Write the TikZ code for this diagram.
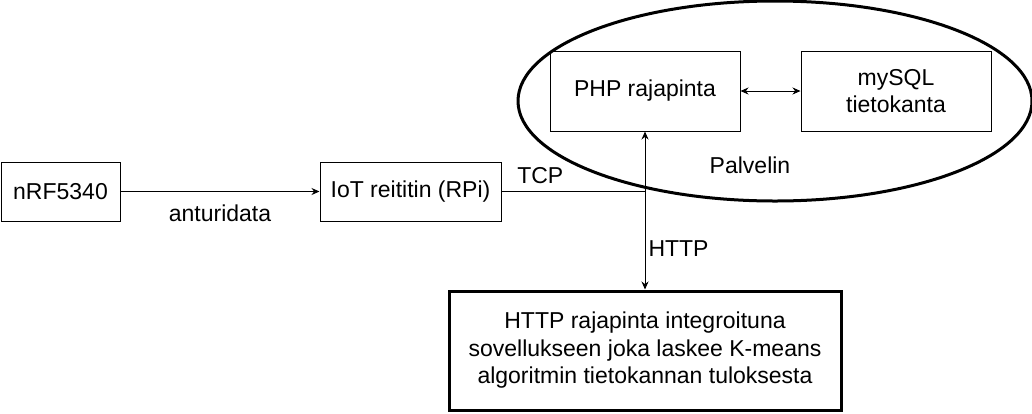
\documentclass[tikz,border=0pt]{standalone}
\usepackage{fontspec}
\setmainfont{Liberation Sans}
\usepackage{tikz}
\usetikzlibrary{arrows.meta,shapes.geometric}
\tikzset{
    Box/.style = {draw,line width=1pt,inner sep=0pt,align=center,
        font=\fontsize{23}{27.5}\selectfont},
    Label/.style = {inner sep=0pt,font=\fontsize{23}{27.5}\selectfont},
    Link/.style = {line width=1pt,-{Stealth[length=8pt,width=7pt]}},
    Both/.style = {line width=1pt,{Stealth[length=8pt,width=7pt]}-{Stealth[length=8pt,width=7pt]}}
}
\begin{document}
\begin{tikzpicture}[x=1pt,y=-1pt]
        \useasboundingbox (0,0) rectangle (1032,413);
        \node[ellipse,draw,line width=3pt,minimum width=514pt,minimum height=200pt,inner sep=0pt] (server) at (775,101) {};
        \node[Box,minimum width=119pt,minimum height=59pt] (nrf) at (60.5,191.5) {nRF5340};
        \node[Box,minimum width=181pt,minimum height=59pt] (iot) at (410.5,191.5) {IoT reititin (RPi)};
        \node[Box,minimum width=190pt,minimum height=80pt] (php) at (645,91) {PHP rajapinta};
        \node[Box,minimum width=190pt,minimum height=80pt] (db) at (896,91) {mySQL\\tietokanta};
        \node[Box,line width=3pt,minimum width=392pt,minimum height=119pt] (app) at (645,350.5)
            {HTTP rajapinta integroituna\\sovellukseen joka laskee K-means\\algoritmin tietokannan tuloksesta};
        \node[Label] (palvelin) at (750,165) {Palvelin};
        \draw[Link] (nrf) -- node[Label,below=13pt] (anturi) {anturidata} (iot);
        \draw[line width=1pt] (iot.east) -- node[Label,pos=0.27,above=7pt] (tcp) {TCP} (iot.east -| php.south);
        \draw[Both] (php.south) -- node[Label,pos=0.74,right=3pt] (http) {HTTP} (app.north);
        \draw[Both] (php) -- (db);
\end{tikzpicture}
\end{document}
